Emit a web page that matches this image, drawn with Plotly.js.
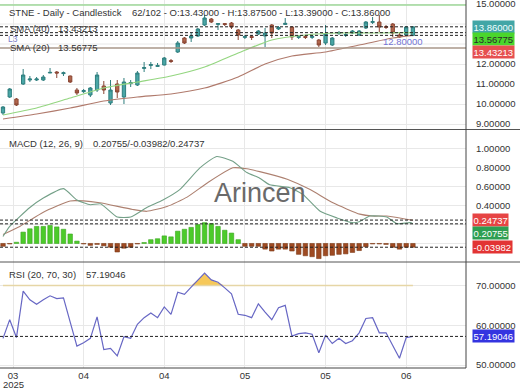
<!DOCTYPE html>
<html>
<head>
<meta charset="utf-8">
<script src="https://cdn.plot.ly/plotly-3.0.1.min.js"></script>
<style>
html,body{margin:0;padding:0;background:#ffffff;overflow:hidden;}
#chart{width:520px;height:390px;}
</style>
</head>
<body>
<div id="chart"></div>
<script>
// ---- data ----
const bars = [1,2,3,4,5,6,7,8,9,10,11,12,13,14,15,16,17,18,19,20,
  21,22,23,24,25,26,27,28,29,30,31,32,33,34,35,36,37,38,39,40,
  41,42,43,44,45,46,47,48,49,50,51,52,53,54,55,56,57,58,59,60,61,62];

const openP = [9.55,10.35,10.25,11.0,11.2,11.2,11.2,11.55,11.6,11.52,
  11.4,10.7,10.62,10.45,10.7,10.9,10.05,11.0,10.35,11.02,
  10.95,11.78,11.93,11.88,11.95,12.17,12.6,13.3,13.3,13.4,
  13.95,14.25,13.98,14.02,14.05,13.7,13.33,13.37,13.5,13.4,
  13.95,13.75,13.98,13.85,13.33,13.37,13.33,13.2,13.05,12.95,
  13.53,13.43,13.55,13.45,13.8,14.08,14.1,13.87,14.0,13.45,
  13.45,13.43];
const highP = [9.9,10.8,10.3,11.75,11.4,11.35,11.45,11.8,11.65,11.62,
  11.42,10.8,10.75,10.85,11.6,11.15,11.2,11.2,11.3,11.2,
  11.65,12.1,12.1,12.05,12.35,12.25,13.15,13.35,13.55,13.8,
  14.45,14.3,14.05,14.05,14.1,13.75,13.45,13.45,13.7,13.8,
  14.0,13.9,14.3,13.9,13.45,13.45,13.45,13.25,13.95,13.35,
  13.65,13.55,13.7,13.7,14.15,14.35,14.45,13.95,14.05,13.6,
  13.9,13.875];
const lowP = [9.45,10.3,9.9,10.95,11.1,11.15,11.15,11.55,11.3,11.4,
  11.05,10.45,10.55,10.35,10.6,10.5,9.95,10.3,10.0,10.85,
  10.9,11.6,11.75,11.85,11.93,12.05,12.55,13.0,13.1,13.35,
  13.9,14.05,13.7,13.9,13.75,13.2,13.25,13.2,13.45,12.85,
  13.3,13.7,13.95,13.2,13.25,13.25,13.25,12.85,12.95,12.9,
  13.45,13.35,13.5,13.4,13.75,14.0,13.6,13.75,13.35,13.3,
  13.4,13.39];
const closeP = [9.85,10.75,9.95,11.45,11.25,11.25,11.35,11.58,11.55,11.56,
  11.1,10.55,10.67,10.8,11.45,10.7,10.7,10.6,11.1,11.07,
  11.55,11.82,11.97,11.92,12.3,12.13,13.05,13.05,13.4,13.75,
  14.3,14.1,14.02,13.98,13.85,13.45,13.37,13.33,13.65,13.55,
  13.55,13.82,14.03,13.35,13.37,13.33,13.38,12.95,13.5,13.3,
  13.57,13.47,13.65,13.65,14.1,14.12,13.85,13.83,13.55,13.35,
  13.85,13.86];

// moving averages, read at selected bars
const sma20Bars = [1,6,11,16,21,26,31,36,41,46,51,56,62];
const sma20Vals = [9.45,9.8,10.3,10.8,11.1,11.4,11.85,12.55,13.2,13.45,13.55,13.55,13.56775];
const sma40Bars = [1,6,11,16,21,26,31,36,40,44,49,54,59,62];
const sma40Vals = [9.25,9.5,9.8,10.15,10.35,10.5,10.8,11.35,12.0,12.4,12.6,12.95,13.3,13.43213];

// MACD (12, 26, 9)
const macdBars = [1,2,5,7,10,12,14,15.5,18,20,22.4,24.8,27.3,30.3,32.8,35.2,37.3,39.2,40.7,43.7,45.6,48.2,50.7,53,54,55.6,58.1,59.6,61.6,62];
const macdVals = [0.074,0.18,0.38,0.48,0.58,0.46,0.41,0.42,0.28,0.28,0.38,0.46,0.57,0.80,0.92,0.87,0.75,0.69,0.62,0.59,0.52,0.34,0.27,0.22,0.23,0.29,0.28,0.21,0.22,0.20755];
const signalBars = [1,3.5,7,11,13,15.4,20.3,22.4,25.4,28.4,31.4,35.2,37.3,39.2,43.3,46.7,50.1,54.1,56,58.1,61.6,62];
const signalVals = [0.095,0.18,0.33,0.45,0.45,0.43,0.36,0.34,0.39,0.49,0.64,0.80,0.79,0.76,0.68,0.57,0.43,0.31,0.29,0.29,0.25,0.24737];
const histVals = [-0.03,-0.005,0.013,0.12,0.155,0.18,0.18,0.19,0.175,0.15,
  0.10,0.025,-0.005,-0.02,-0.01,-0.025,-0.04,-0.09,-0.05,-0.04,
  -0.005,0.01,0.04,0.05,0.08,0.07,0.13,0.15,0.17,0.2,
  0.22,0.21,0.18,0.14,0.11,0.04,-0.03,-0.03,-0.03,-0.06,
  -0.08,-0.06,-0.06,-0.08,-0.115,-0.13,-0.14,-0.16,-0.13,-0.125,
  -0.115,-0.11,-0.095,-0.075,-0.035,-0.005,-0.005,-0.01,-0.04,-0.06,
  -0.04,-0.03982];

// RSI (20, 70, 30)
const rsiVals = [56.7,61.4,56.9,68.6,66.4,65.3,66.4,67.4,66.7,66.9,
  60.8,54.75,55.6,56.7,62.1,53.9,54.2,52.3,57.1,56.7,
  60.25,61.9,63.1,61.9,64.6,62.75,68.3,67.75,69.6,71.4,
  73.1,71.4,70.8,69.4,67.9,62.75,62.5,61.9,65.4,63.3,
  61.4,64.4,65.0,57.25,57.9,58.1,57.75,53.1,57.5,55.4,
  56.7,55.4,56.1,58.1,61.7,61.9,58.1,58.1,55.0,51.7,
  56.9,57.19046];
const rsiOverbought = 70;

// levels and last values
const lastClose = 13.86, lastOpen = 13.43, lastHigh = 13.875, lastLow = 13.39;
const lastSma20 = 13.56775, lastSma40 = 13.43213;
const levelL3 = 12.80, levelTop = 14.95;
const lastMacd = 0.20755, lastHist = -0.03982, lastSignal = 0.24737;
const lastRsi = 57.19046;

// x tick labels
const tickLabels = ['03','04','04','05','05','06'];
const tickAt = [2.5,13,25,37,49,61];
const yearLabel = '2025';

// ---- drawing ----
const FONT = 'Liberation Sans, Arial, sans-serif';
const PW = 466, PH = 368;
const px = x => x / PW;
const py = y => (PH - y) / PH;

const traces = [
  {type:'candlestick', x:bars, open:openP, high:highP, low:lowP, close:closeP,
   xaxis:'x', yaxis:'y', whiskerwidth:0, hoverinfo:'skip',
   increasing:{line:{color:'#2f7e7e', width:1}, fillcolor:'#49a6a6'},
   decreasing:{line:{color:'#8a4634', width:1}, fillcolor:'#b2664c'}},
  {type:'scatter', mode:'lines', x:sma40Bars, y:sma40Vals, xaxis:'x', yaxis:'y',
   line:{color:'#b07a6c', width:1.2, shape:'spline', smoothing:0.6}},
  {type:'scatter', mode:'lines', x:sma20Bars, y:sma20Vals, xaxis:'x', yaxis:'y',
   line:{color:'#94d680', width:1.2, shape:'spline', smoothing:0.6}},
  {type:'bar', x:bars, y:histVals, xaxis:'x', yaxis:'y2',
   marker:{color:histVals.map(v => v >= 0 ? '#4ccb2a' : '#9e4a22'),
           line:{color:histVals.map(v => v >= 0 ? '#3aa520' : '#7e3a18'), width:0.6}}},
  {type:'scatter', mode:'lines', x:signalBars, y:signalVals, xaxis:'x', yaxis:'y2',
   line:{color:'#ad8070', width:1.1, shape:'spline', smoothing:0.5}},
  {type:'scatter', mode:'lines', x:macdBars, y:macdVals, xaxis:'x', yaxis:'y2',
   line:{color:'#74a088', width:1.1, shape:'spline', smoothing:0.5}},
  {type:'scatter', mode:'lines', x:bars, y:bars.map(() => rsiOverbought), xaxis:'x', yaxis:'y3',
   line:{color:'#e6d6a6', width:1.6}},
  {type:'scatter', mode:'lines', x:bars, y:rsiVals.map(v => Math.max(v, rsiOverbought)), xaxis:'x', yaxis:'y3',
   line:{width:0, color:'rgba(0,0,0,0)'}, fill:'tonexty', fillcolor:'rgba(244,190,60,0.85)'},
  {type:'scatter', mode:'lines', x:bars, y:rsiVals, xaxis:'x', yaxis:'y3',
   line:{color:'#6767c4', width:1.2}}
];

const gridC = '#e8e8e8';
const yCommon = {side:'right', zeroline:false, showline:false, gridcolor:gridC, gridwidth:1,
  ticks:'outside', ticklen:7, tickcolor:'rgba(0,0,0,0)', tickformat:'.5f',
  tickfont:{family:FONT, size:9.5, color:'#333'}, fixedrange:true};

const dash = (yref, v) => ({type:'line', xref:'paper', x0:0, x1:1, yref:yref, y0:v, y1:v,
  line:{color:'#222', width:1, dash:'3px,2px'}, layer:'above'});
const hgrid = (yref, v) => ({type:'line', xref:'paper', x0:0, x1:1, yref:yref, y0:v, y1:v,
  line:{color:gridC, width:1}, layer:'below'});

const shapes = [
  hgrid('y', 13), hgrid('y', 14), hgrid('y2', 0), hgrid('y2', 0.2),
  {type:'line', xref:'paper', x0:0, x1:1, yref:'y', y0:levelTop, y1:levelTop, line:{color:'#9fd89a', width:1.4}},
  {type:'line', xref:'paper', x0:0, x1:1, yref:'y', y0:levelL3, y1:levelL3, line:{color:'#a8978a', width:1.6}},
  dash('y', lastClose), dash('y', lastSma20), dash('y', lastSma40),
  dash('y2', lastSignal), dash('y2', lastMacd), dash('y2', lastHist),
  dash('y3', lastRsi),
  // panel frame
  {type:'line', xref:'paper', yref:'paper', x0:0, x1:520/PW, y0:py(129.5), y1:py(129.5), line:{color:'#555', width:1}},
  {type:'line', xref:'paper', yref:'paper', x0:0, x1:520/PW, y0:py(262), y1:py(262), line:{color:'#555', width:1}},
  {type:'line', xref:'paper', yref:'paper', x0:0, x1:1, y0:0, y1:0, line:{color:'#444', width:1}},
  {type:'line', xref:'paper', yref:'paper', x0:1, x1:1, y0:0, y1:1, line:{color:'#444', width:1}}
];

const txt = (t, x, y, opts) => Object.assign({text:t, xref:'paper', yref:'paper', x:px(x), y:py(y),
  xanchor:'left', yanchor:'middle', showarrow:false, borderpad:0,
  font:{family:FONT, size:9.5, color:'#333'}}, opts || {});
const badge = (t, yref, v, bg, fg, shift) => ({text:t, xref:'paper', x:1, xanchor:'left', xshift:6,
  yref:yref, y:v, yanchor:'middle', yshift:shift || 0, showarrow:false, bgcolor:bg, borderpad:0.5,
  font:{family:FONT, size:9.5, color:fg}});

const annotations = [
  txt('STNE - Daily - Candlestick', 8, 12),
  txt('62/102 - O:' + lastOpen.toFixed(5) + ' - H:' + lastHigh.toFixed(5) + ' - L:' + lastLow.toFixed(5) + ' - C:' + lastClose.toFixed(5), 131, 12),
  txt('SMA (40)', 9, 29), txt(lastSma40.toFixed(5), 57, 29),
  txt('L3', 7, 38.5, {font:{family:FONT, size:8.5, color:'#7b7bc8'}}),
  txt('SMA (20)', 9, 47.5), txt(lastSma20.toFixed(5), 57, 47.5),
  txt(levelL3.toFixed(5), 382, 42, {font:{family:FONT, size:9.5, color:'#7474d4'}}),
  txt('MACD (12, 26, 9)', 8, 143),
  txt(lastMacd.toFixed(5) + '/' + lastHist.toFixed(5) + '/' + lastSignal.toFixed(5), 92, 143),
  txt('Arincen', 260, 193, {xanchor:'center', font:{family:FONT, size:27, color:'#6a6a6a'}}),
  txt('RSI (20, 70, 30)', 8, 274), txt(lastRsi.toFixed(5), 85, 274),
  {text:yearLabel, xref:'x', x:tickAt[0], yref:'paper', y:py(384), xanchor:'center', yanchor:'middle',
   showarrow:false, borderpad:0, font:{family:FONT, size:9.5, color:'#333'}},
  badge(lastClose.toFixed(5), 'y', lastClose, '#42a6a6', '#f0ffff', 0),
  badge(lastSma20.toFixed(5), 'y', lastSma20, '#4ad62c', '#2a2a2a', -6.5),
  badge(lastSma40.toFixed(5), 'y', lastSma40, '#e65050', '#ffffff', -16.5),
  badge(lastSignal.toFixed(5), 'y2', lastSignal, '#e64444', '#ffffff', 0),
  badge(lastMacd.toFixed(5), 'y2', lastMacd, '#2e9e52', '#ffffff', -9),
  badge(lastHist.toFixed(5), 'y2', lastHist, '#e23434', '#ffffff', 0),
  badge(lastRsi.toFixed(5), 'y3', lastRsi, '#3434e0', '#ffffff', 0)
];

const layout = {
  width:520, height:390,
  margin:{l:0, r:54, t:0, b:22, pad:0},
  paper_bgcolor:'#ffffff', plot_bgcolor:'#ffffff',
  showlegend:false, hovermode:false, bargap:0.33,
  font:{family:FONT, size:9.5, color:'#333'},
  xaxis:{range:[0.554, 69.9], anchor:'y3', tickvals:tickAt, ticktext:tickLabels,
    showgrid:true, gridcolor:gridC, zeroline:false, showline:false, ticks:'',
    rangeslider:{visible:false}, tickfont:{family:FONT, size:9.5, color:'#333'}, fixedrange:true},
  yaxis:Object.assign({}, yCommon, {domain:[1 - 129/PH, 1], range:[8.75, 15.2], tickvals:[9,10,11,12,15], ticklabeloverflow:'allow'}),
  yaxis2:Object.assign({}, yCommon, {domain:[1 - 262/PH, 1 - 130/PH], range:[-0.196, 1.2], tickvals:[0.4,0.6,0.8,1.0]}),
  yaxis3:Object.assign({}, yCommon, {domain:[0, 1 - 262/PH], range:[49.25, 75.9], tickvals:[50,60,70]}),
  shapes:shapes,
  annotations:annotations
};

Plotly.newPlot('chart', traces, layout, {staticPlot:true, displayModeBar:false});
</script>
</body>
</html>
